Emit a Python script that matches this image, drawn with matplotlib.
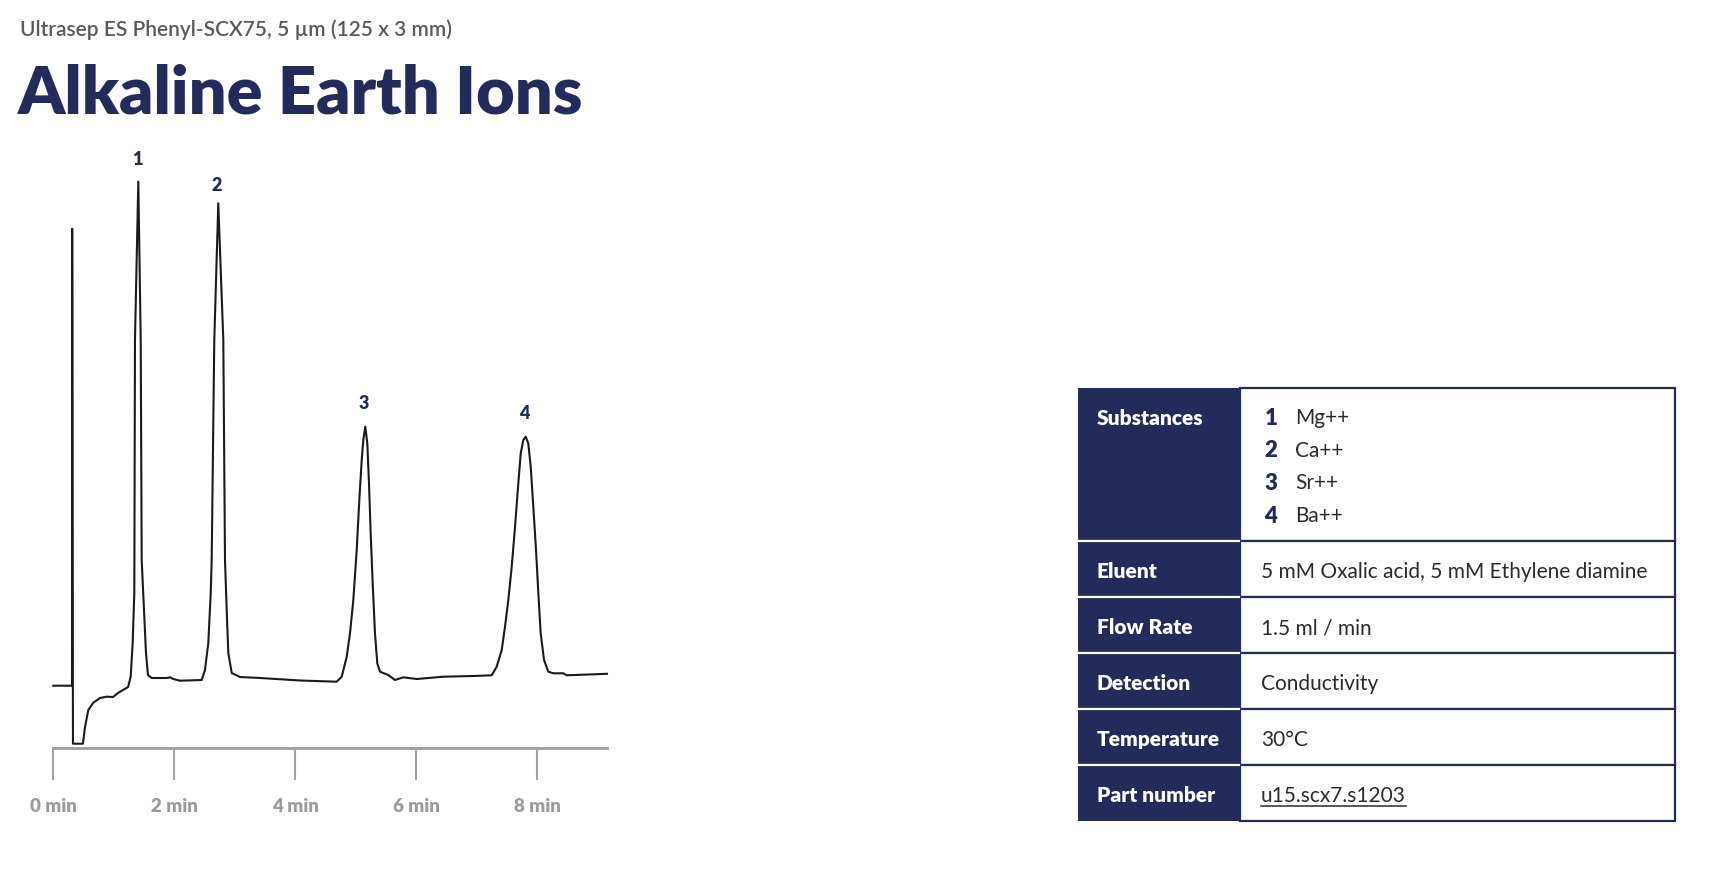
import matplotlib
matplotlib.use('Agg')
import matplotlib.pyplot as plt
from matplotlib.patches import Rectangle
import numpy as np

plt.rcParams['font.family'] = ['Lato', 'DejaVu Sans']

W, H = 1709, 871
NAVY = '#232b5b'
AXIS_GREY = '#a3a3a3'
TICK_GREY = '#9b9b9b'

subtitle = 'Ultrasep ES Phenyl-SCX75, 5 µm (125 x 3 mm)'
title = 'Alkaline Earth Ions'

# chromatogram trace (time in min, signal in arbitrary units)
time_min = [0.0, 0.309, 0.312, 0.325, 0.33, 0.49, 0.524, 0.579, 0.661, 0.772,
            0.883, 0.987, 1.069, 1.152, 1.236, 1.279, 1.312, 1.339, 1.350, 1.405,
            1.445, 1.461, 1.499, 1.532, 1.565, 1.626, 1.874, 1.93, 1.983, 2.094,
            2.453, 2.507, 2.562, 2.602, 2.618, 2.661, 2.727, 2.810, 2.838, 2.866,
            2.893, 2.949, 3.086, 3.417, 4.077, 4.684, 4.767, 4.850, 4.904, 4.959,
            5.015, 5.058, 5.098, 5.124, 5.157, 5.190, 5.218, 5.246, 5.279, 5.317,
            5.355, 5.400, 5.537, 5.648, 5.785, 6.007, 6.446, 6.942, 7.246, 7.329,
            7.412, 7.466, 7.521, 7.577, 7.632, 7.686, 7.726, 7.769, 7.808, 7.851,
            7.891, 7.934, 7.979, 8.017, 8.056, 8.111, 8.182, 8.264, 8.430, 8.486,
            9.152]
signal = [62, 62, 519, 4, 4, 4, 20.7, 37.7, 45, 49.7,
          51, 50.7, 54.7, 57.7, 60.7, 71, 104.7, 154.7, 407.7, 566,
          407.7, 187.7, 137.7, 94.7, 72.7, 69.7, 69.7, 70.4, 68.7, 67,
          67.7, 77.7, 104.7, 154.7, 187.7, 407.7, 544.4, 407.7, 187.7, 137.7,
          94.7, 74.7, 70.7, 69.7, 67.2, 66, 71, 91, 114.4, 147.7,
          197.7, 247.7, 287.7, 307.7, 321, 304.4, 264.4, 214.4, 164.4, 114.4,
          84.4, 76, 72.7, 67.7, 70.4, 68.7, 71, 71.7, 72.4, 81,
          97.7, 121, 147.7, 181, 221, 264.4, 294.4, 307.7, 311, 304.4,
          281, 241, 197.7, 154.4, 114.4, 87.7, 76, 74.4, 74.4, 72.4,
          73.9]

peak_labels = ['1', '2', '3', '4']
peak_times = [1.405, 2.727, 5.157, 7.808]
tick_minutes = [0, 2, 4, 6, 8]

substances = ['Mg++', 'Ca++', 'Sr++', 'Ba++']
row_labels = ['Substances', 'Eluent', 'Flow Rate', 'Detection', 'Temperature', 'Part number']
row_values = ['', '5 mM Oxalic acid, 5 mM Ethylene diamine', '1.5 ml / min',
              'Conductivity', '30°C', 'u15.scx7.s1203']

fig = plt.figure(figsize=(W / 100, H / 100), dpi=100)

# ---- chromatogram ----
x0_px, x1_px, base_px, top_px = 53.3, 607, 747.7, 150
ax = fig.add_axes([x0_px / W, (H - base_px) / H, (x1_px - x0_px) / W, (base_px - top_px) / H])
ax.plot(time_min, signal, color='#1a1a1a', lw=1.5, clip_on=False, solid_joinstyle='round')
ax.set_xlim(0, 9.152)
ax.set_ylim(0, base_px - top_px)
for s in ['top', 'right', 'left']:
    ax.spines[s].set_visible(False)
ax.spines['bottom'].set_color(AXIS_GREY)
ax.spines['bottom'].set_linewidth(2.2)
ax.set_yticks([])
ax.set_xticks(tick_minutes)
ax.set_xticklabels([f'{m} min' for m in tick_minutes])
ax.tick_params(axis='x', direction='out', length=23, width=1.5, color=AXIS_GREY,
               labelcolor=TICK_GREY, labelsize=13.5, pad=13)
for lab in ax.get_xticklabels():
    lab.set_fontweight('heavy')
ax.patch.set_visible(False)

t_arr = np.array(time_min)
s_arr = np.array(signal)
label_lift = [16, 13, 17, 17]
for lab, pt, lift in zip(peak_labels, peak_times, label_lift):
    near = np.abs(t_arr - pt) < 0.1
    apex = s_arr[near].max()
    ax.annotate(lab, (pt, apex), xytext=(-1, lift), textcoords='offset points',
                ha='center', va='center', fontsize=13, fontweight='heavy', color=NAVY,
                annotation_clip=False)

# ---- overlay in pixel coordinates: header and table ----
ov = fig.add_axes([0, 0, 1, 1], zorder=-1)
ov.set_xlim(0, W)
ov.set_ylim(H, 0)
ov.axis('off')

ov.text(20, 30, subtitle, fontsize=15, fontweight='semibold', color='#5a5a5a',
        va='center', ha='left')
ov.text(18, 114, title, fontsize=48, fontweight='heavy', color=NAVY, va='baseline', ha='left')

t_left, t_split, t_right = 1078, 1240, 1675
row_edges = [388, 541, 597, 653, 709, 765, 821]

for i, lab in enumerate(row_labels):
    top, bot = row_edges[i], row_edges[i + 1]
    ov.add_patch(Rectangle((t_left, top), t_split - t_left, bot - top,
                           facecolor=NAVY, edgecolor='none'))
    ov.add_patch(Rectangle((t_split, top), t_right - t_split, bot - top,
                           facecolor='white', edgecolor=NAVY, lw=1.6))
    if i > 0:
        ov.plot([t_left, t_split - 1], [top, top], color='white', lw=1.6)
    ty = top + 30 if i == 0 else (top + bot) / 2 + 2
    ov.text(1097, ty, lab, fontsize=15, fontweight='heavy', color='white', va='center', ha='left')
    if row_values[i]:
        txt = ov.text(1261, (top + bot) / 2 + 3, row_values[i], fontsize=15, color='#2b2b2b',
                      va='center', ha='left')

for j, name in enumerate(substances):
    y = 418 + j * 32.7
    ov.text(1271, y, str(j + 1), fontsize=16, fontweight='heavy', color=NAVY, va='center', ha='center')
    ov.text(1295, y, name, fontsize=15, color='#2b2b2b', va='center', ha='left')

# underline the part number
fig.canvas.draw()
bb = txt.get_window_extent(fig.canvas.get_renderer())
(ux0, _), (ux1, _) = ov.transData.inverted().transform([[bb.x0, bb.y0], [bb.x1, bb.y0]])
uy = (row_edges[-2] + row_edges[-1]) / 2 + 13
ov.plot([ux0, ux1], [uy, uy], color='#2b2b2b', lw=1.1)

fig.savefig('out.png', dpi=100)
